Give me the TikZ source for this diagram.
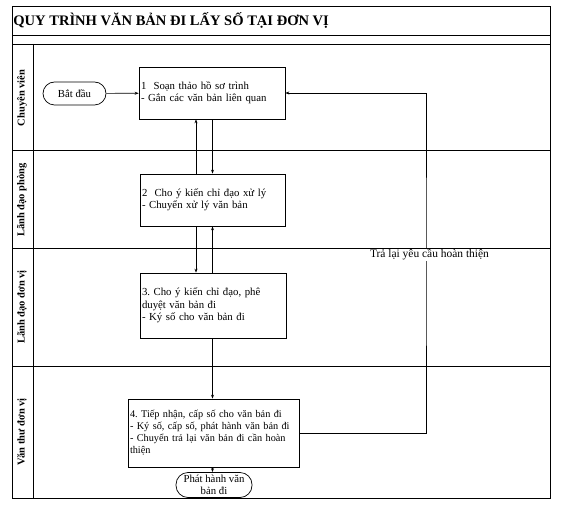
\documentclass[tikz,border=0pt]{standalone}
\usepackage{fontspec}
\setmainfont{Liberation Serif}
\usetikzlibrary{arrows.meta}
\frenchspacing
\begin{document}
\begin{tikzpicture}[x=1bp,y=-1bp,line width=0.7bp,
  frameline/.style={line width=0.8bp},
  proc/.style={draw, rectangle, inner xsep=2bp, inner ysep=0bp, align=left,
    font=\fontsize{10.8}{12.5}\selectfont},
  term/.style={draw, rectangle, align=center, inner sep=0bp,
    font=\fontsize{10.8}{12}\selectfont},
  lanelabel/.style={rotate=90, font=\bfseries\fontsize{10.5}{12}\selectfont},
  arr/.style={-{Stealth[length=4bp,width=3bp]}}]
\useasboundingbox (0,0) rectangle (561,506);
% frame and lanes
\draw[frameline] (12,6) rectangle (550,498);
\draw[frameline] (12,35) -- (550,35);
\draw[frameline] (12,44) -- (550,44);
\draw[frameline] (12,150) -- (550,150);
\draw[frameline] (12,248) -- (550,248);
\draw[frameline] (12,366) -- (550,366);
\draw[frameline] (33,44) -- (33,498);
% title
\node[anchor=base west, inner sep=0, font=\bfseries\fontsize{14.6}{17}\selectfont] (title) at (13,25.5) {QUY TRÌNH VĂN BẢN ĐI LẤY SỐ TẠI ĐƠN VỊ};
% lane labels
\node[lanelabel] (l1) at (22,98) {Chuyên viên};
\node[lanelabel] (l2) at (22,200) {Lãnh đạo phòng};
\node[lanelabel] (l3) at (22,307) {Lãnh đạo đơn vị};
\node[lanelabel] (l4) at (22,432) {Văn thư đơn vị};
% nodes
\node[term, rounded corners=11.5bp, minimum width=63bp, minimum height=23bp] (start) at (74.5,93.5) {Bắt đầu};
\node[proc, text width=142bp, minimum height=52bp] (b1) at (212,93) {1\ \ Soạn thảo hồ sơ trình\\- Gắn các văn bản liên quan};
\node[proc, text width=141bp, minimum height=52bp] (b2) at (212.5,200) {2\ \ Cho ý kiến chỉ đạo xử lý\\- Chuyển xử lý văn bản};
\node[proc, text width=142bp, minimum height=65bp] (b3) at (213,305.5) {3. Cho ý kiến chỉ đạo, phê\\duyệt văn bản đi\\- Ký số cho văn bản đi};
\node[proc, text width=167bp, minimum height=68bp, font=\fontsize{10.3}{12}\selectfont] (b4) at (213.5,433) {4. Tiếp nhận, cấp số cho văn bản đi\\- Ký số, cấp số, phát hành văn bản đi\\- Chuyển trả lại văn bản đi cần hoàn\\thiện};
\node[term, rounded corners=12bp, minimum width=76bp, minimum height=25bp] (end) at (214,485) {Phát hành văn\\bản đi};
% helper coordinates
\coordinate (xl) at (196,0);
\coordinate (xr) at (212.5,0);
\coordinate (ret) at (426,260);
% connectors
\draw[arr] (start) -- (b1);
\draw[arr] (b1.south -| xr) -- (b2.north -| xr);
\draw[arr] (b2.north -| xl) -- (b1.south -| xl);
\draw[arr] (b2.south -| xl) -- (b3.north -| xl);
\draw[arr] (b3.north -| xr) -- (b2.south -| xr);
\draw[arr] (b3.south -| xr) -- (b4.north -| xr);
\draw[arr] (b4.south -| xr) -- (end.north -| xr);
\draw[arr] (b4.east) -| (ret) |- (b1.east);
\node[fill=white, inner sep=1bp, font=\fontsize{11.5}{13}\selectfont] (retlabel) at (429.5,255) {Trả lại yêu cầu hoàn thiện};
\end{tikzpicture}
\end{document}
